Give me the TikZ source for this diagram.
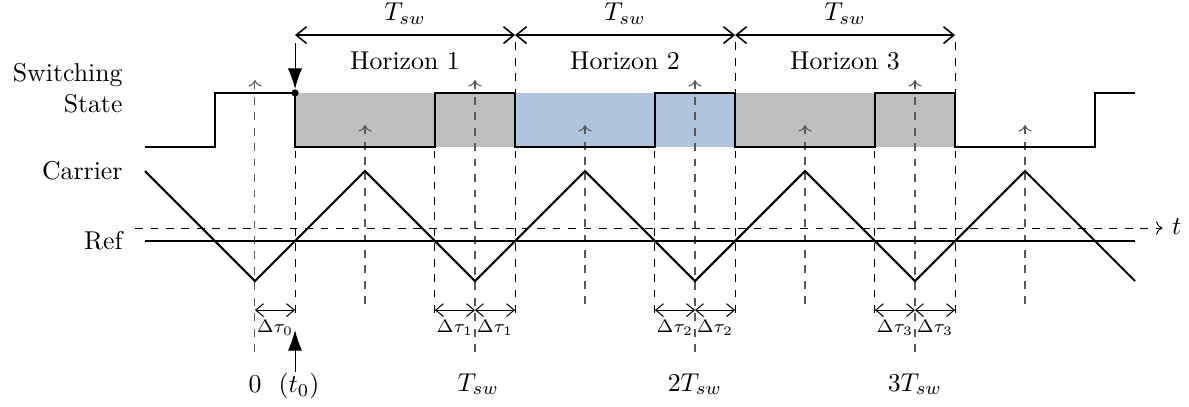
\documentclass[tikz,border=0pt]{standalone}
\usepackage{amsmath}
\usepackage{xcolor}
\usetikzlibrary{calc,arrows.meta}
\definecolor{horizonblue}{RGB}{176,196,222}

\begin{document}
\begin{tikzpicture}[x=1.5cm,y=1.5cm,
  guide/.style={dashed,gray!70!black,->},
  swline/.style={dashed},
  span/.style={semithick,>={Straight Barb[length=4pt,width=6.5pt]},<->},
  dtau/.style={thin,>={Straight Barb[length=3pt,width=5pt]},<->},
  tzero/.style={-{Latex[length=8pt,width=5.5pt]}},
  sig/.style={anchor=base east,inner sep=0pt}]
\useasboundingbox (-2.318,-1.136) rectangle (8.491,2.555);
% horizons
\fill[gray!50] (0.364,1.22) rectangle (2.364,1.71);
\fill[horizonblue] (2.364,1.22) rectangle (4.364,1.71);
\fill[gray!50] (4.364,1.22) rectangle (6.364,1.71);
% sampling instants
\draw[guide] (0,-0.645) -- (0,1.827);
\draw[guide] (2,-0.645) -- (2,1.827);
\draw[guide] (4,-0.645) -- (4,1.827);
\draw[guide] (6,-0.645) -- (6,1.827);
\draw[guide] (1,-0.21) -- (1,1.418);
\draw[guide] (3,-0.21) -- (3,1.418);
\draw[guide] (5,-0.21) -- (5,1.418);
\draw[guide] (7,-0.21) -- (7,1.418);
% switching instants
\draw[swline] (0.364,-0.29) -- (0.364,1.71);
\draw[swline] (1.636,-0.29) -- (1.636,1.71);
\draw[swline] (3.636,-0.29) -- (3.636,1.71);
\draw[swline] (5.636,-0.29) -- (5.636,1.71);
\draw[swline] (2.364,-0.29) -- (2.364,2.236);
\draw[swline] (4.364,-0.29) -- (4.364,2.236);
\draw[swline] (6.364,-0.29) -- (6.364,2.236);
% time axis
\draw[dashed,->] (-1.09,0.482) -- (8.25,0.482);
\node[anchor=base] (t) at (8.38,0.42) {$t$};
% signals
\draw[thick] (-1,1) -- (0,0) -- (1,1) -- (2,0) -- (3,1) -- (4,0) -- (5,1) -- (6,0) -- (7,1) -- (8,0);
\draw[thick] (-1,0.364) -- (8,0.364);
\draw[thick] (-1,1.22) -- (-0.364,1.22) -- (-0.364,1.71) -- (0.364,1.71) -- (0.364,1.22)
  -- (1.636,1.22) -- (1.636,1.71) -- (2.364,1.71) -- (2.364,1.22)
  -- (3.636,1.22) -- (3.636,1.71) -- (4.364,1.71) -- (4.364,1.22)
  -- (5.636,1.22) -- (5.636,1.71) -- (6.364,1.71) -- (6.364,1.22)
  -- (7.636,1.22) -- (7.636,1.71) -- (8,1.71);
\node[sig,align=right] (sw) at (-1.2,1.53) {Switching\\State};
\node[sig] (car) at (-1.2,0.927) {Carrier};
\node[sig] (ref) at (-1.2,0.29) {Ref};
% horizons
\coordinate (h0) at (0.364,2.236);
\coordinate (h1) at (2.364,2.236);
\coordinate (h2) at (4.364,2.236);
\coordinate (h3) at (6.364,2.236);
\draw[span] (h0) -- (h1);
\draw[span] (h1) -- (h2);
\draw[span] (h2) -- (h3);
\node[anchor=base] (tsw1) at (1.364,2.37) {$T_{sw}$};
\node[anchor=base] (tsw2) at (3.364,2.37) {$T_{sw}$};
\node[anchor=base] (tsw3) at (5.364,2.37) {$T_{sw}$};
\node[anchor=base] (hor1) at (1.364,1.927) {Horizon 1};
\node[anchor=base] (hor2) at (3.364,1.927) {Horizon 2};
\node[anchor=base] (hor3) at (5.364,1.927) {Horizon 3};
% t0
\coordinate (t0) at (0.364,1.71);
\coordinate (t0top) at (0.364,2.164);
\draw[tzero,shorten >=1.5pt] (t0top) -- (t0);
\fill (t0) circle (1.4pt);
\coordinate (t0up) at (0.364,-0.445);
\coordinate (t0low) at (0.364,-0.83);
\draw[tzero] (t0low) -- (t0up);
% delays
\coordinate (d0a) at (0,-0.264);
\coordinate (d0b) at (0.364,-0.264);
\draw[dtau] (d0a) -- (d0b);
\draw[dtau] (1.636,-0.264) coordinate (d1a) -- (2,-0.264) coordinate (d1b);
\draw[dtau] (d1b) -- (2.364,-0.264);
\draw[dtau] (3.636,-0.264) coordinate (d2a) -- (4,-0.264) coordinate (d2b);
\draw[dtau] (d2b) -- (4.364,-0.264);
\draw[dtau] (5.636,-0.264) coordinate (d3a) -- (6,-0.264) coordinate (d3b);
\draw[dtau] (d3b) -- (6.364,-0.264);
\node[anchor=base,font=\scriptsize] (dt0) at (0.182,-0.47) {$\Delta\tau_0$};
\node[anchor=base,font=\scriptsize] (dt1a) at (1.818,-0.47) {$\Delta\tau_1$};
\node[anchor=base,font=\scriptsize] (dt1b) at (2.182,-0.47) {$\Delta\tau_1$};
\node[anchor=base,font=\scriptsize] (dt2a) at (3.818,-0.47) {$\Delta\tau_2$};
\node[anchor=base,font=\scriptsize] (dt2b) at (4.182,-0.47) {$\Delta\tau_2$};
\node[anchor=base,font=\scriptsize] (dt3a) at (5.818,-0.47) {$\Delta\tau_3$};
\node[anchor=base,font=\scriptsize] (dt3b) at (6.182,-0.47) {$\Delta\tau_3$};
% time labels
\node[anchor=base] (zero) at (0,-1.01) {$0$};
\node[anchor=base] (tlab0) at (0.4,-1.01) {$(t_0)$};
\node[anchor=base] (tlab1) at (2.03,-1.0) {$T_{sw}$};
\node[anchor=base] (tlab2) at (4.0,-1.0) {$2T_{sw}$};
\node[anchor=base] (tlab3) at (6.0,-1.0) {$3T_{sw}$};
\end{tikzpicture}
\end{document}
